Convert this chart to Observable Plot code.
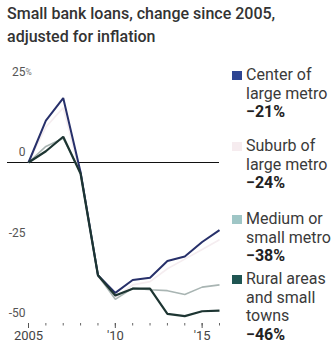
<!DOCTYPE html>
<html>
<head>
<meta charset="utf-8">
<script src="https://cdn.jsdelivr.net/npm/d3@7"></script>
<script src="https://cdn.jsdelivr.net/npm/@observablehq/plot@0.6"></script>
<style>
  html, body { margin: 0; padding: 0; background: #fff; }
  #wrap { position: relative; width: 333px; height: 348px; overflow: hidden;
          font-family: Roboto, "Noto Sans", sans-serif; color: #333; }
  #title { position: absolute; left: 7px; top: 3px; font-size: 16px; font-weight: 500; line-height: 22.5px; color: #333; white-space: nowrap; }
  #chart { position: absolute; left: 0; top: 52px; }
  .lg { position: absolute; left: 246px; font-size: 16px; line-height: 18.5px; color: #3a3a3a; white-space: nowrap; }
  .lg b { font-weight: 700; color: #222; }
  .sw { position: absolute; left: -14px; top: 5px; width: 10px; height: 9px; }
</style>
</head>
<body>
<div id="wrap">
  <div id="title">Small bank loans, change since 2005,<br>adjusted for inflation</div>
  <div id="chart"></div>
</div>
<script>
// Real change in small-bank lending, percent since 2005
const years  = [2005, 2006, 2007, 2008, 2009, 2010, 2011, 2012, 2013, 2014, 2015, 2016];
const center = [0, 13, 20, -3, -35, -40.5, -36.5, -35.8, -30.6, -29.2, -24.7, -21];
const suburb = [0, 11, 17, -4, -35.5, -42, -38, -37, -33, -30, -27, -24];
const medium = [0, 5, 7.5, -3, -35, -42.5, -39, -39.5, -39.8, -41, -38.7, -38];
const rural  = [0, 3.5, 8, -3.5, -35, -41.3, -39.2, -39.2, -47, -47.7, -46.2, -46];

const seriesNames = ["Center of large metro", "Suburb of large metro", "Medium or small metro", "Rural areas and small towns"];
const legendLines = [["Center of", "large metro"], ["Suburb of", "large metro"], ["Medium or", "small metro"], ["Rural areas", "and small", "towns"]];
const lineColors  = ["#27306a", "#f5edf0", "#a9b5b3", "#1d3532"];
const swatchColors = ["#2e4592", "#f6ecef", "#9fc6c6", "#1f5552"];
const seriesValues = [center, suburb, medium, rural];

const yTicks = [25, 0, -25, -50];
const yTickLabels = ["25", "0", "-25", "-50"];
const majorYears = [2005, 2010, 2015];
const majorYearLabels = ["2005", "'10", "'15"];

// long table for the line marks
const rows = seriesNames.flatMap((name, i) =>
  years.map((yr, j) => ({ series: name, year: yr, value: seriesValues[i][j] })));

// paint order: light series underneath, rural on top
const drawOrder = [1, 2, 0, 3];
const widths = [2, 1.6, 1.6, 2.2];

const fontFam = getComputedStyle(document.getElementById("wrap")).fontFamily;

const chart = Plot.plot({
  width: 333,
  height: 296,
  marginLeft: 7,
  marginRight: 114,
  marginTop: 29.5,
  marginBottom: 25,
  style: { fontFamily: fontFam, background: "transparent", overflow: "visible" },
  x: { domain: [2005, 2016], range: [28, 219], axis: null },
  y: { domain: [-50, 25], axis: null },
  marks: [
    Plot.ruleY([0], { stroke: "#111", strokeWidth: 1 }),
    ...drawOrder.map(i => Plot.line(rows.filter(d => d.series === seriesNames[i]), {
      x: "year", y: "value", stroke: lineColors[i], strokeWidth: widths[i],
      strokeLinejoin: "miter", strokeLinecap: "butt"
    })),
    // y labels sit just above their value
    Plot.text(yTicks, {
      y: d => d, frameAnchor: "left", dx: 18, dy: -10, textAnchor: "end",
      text: (d, i) => yTickLabels[i], fontSize: 12, fill: "#555"
    }),
    Plot.text([25], {
      y: d => d, frameAnchor: "left", dx: 18, dy: -10, textAnchor: "start",
      text: () => "%", fontSize: 8.5, fill: "#777"
    }),
    // yearly minor ticks and labelled major ticks
    Plot.axisX({ ticks: years, tickSize: 2.5, tickFormat: () => "", label: null, stroke: "#666", strokeWidth: 1 }),
    Plot.axisX({
      ticks: majorYears, tickSize: 5, tickPadding: 2, label: null,
      tickFormat: d => majorYearLabels[majorYears.indexOf(d)],
      fontSize: 13, fill: "#444", stroke: "#555"
    })
  ]
});
document.getElementById("chart").appendChild(chart);

// legend column, each entry ending with its 2016 change
const legendTops = [66, 137, 210, 270];
const wrap = document.getElementById("wrap");
seriesNames.forEach((name, i) => {
  const el = document.createElement("div");
  el.className = "lg";
  el.style.top = legendTops[i] + "px";
  const last = seriesValues[i][seriesValues[i].length - 1];
  el.innerHTML = legendLines[i].join("<br>") + "<br><b>\u2212" + Math.abs(Math.round(last)) + "%</b>";
  const sw = document.createElement("span");
  sw.className = "sw";
  sw.style.background = swatchColors[i];
  el.appendChild(sw);
  wrap.appendChild(el);
});
</script>
</body>
</html>
